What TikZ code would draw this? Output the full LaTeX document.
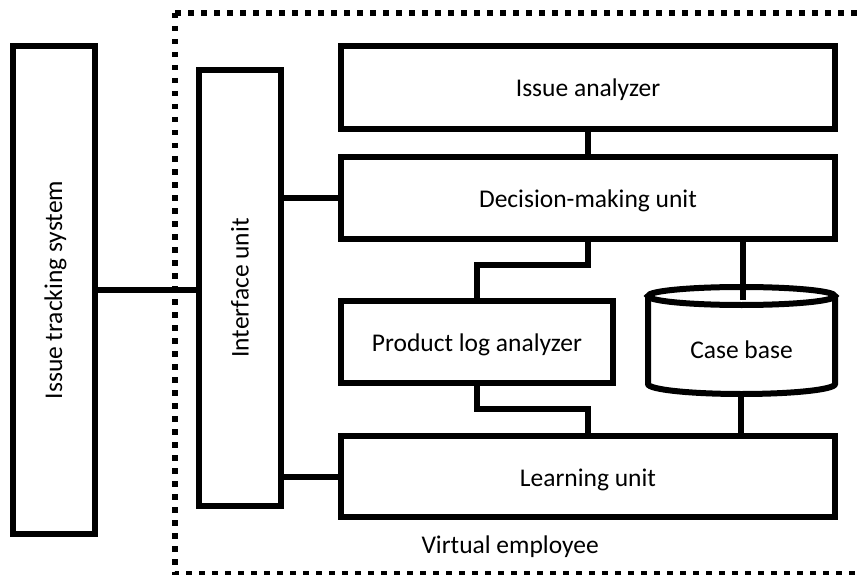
\documentclass[tikz,border=0pt]{standalone}
\usepackage{fontspec}
\setmainfont{Carlito}
\begin{document}
\begin{tikzpicture}[x=1pt, y=-1pt,
  every node/.style={font=\fontsize{25.5}{30}\selectfont},
  label text/.style={text height=22pt, text depth=3pt},
  block/.style={draw, line width=6pt, rectangle, inner sep=0pt, outer sep=0pt, line join=miter, label text},
  link/.style={draw, line width=6pt, line join=miter},
  boundary/.style={draw, line width=5.5pt, dash pattern=on 5.5pt off 7.5pt}]
\useasboundingbox (0,0) rectangle (862,575);

% system boundary of the virtual employee (runs off the right and bottom)
\draw[boundary] (175,13) -- (862,13);
\draw[boundary] (175,13) -- (175,574) -- (862,574);
\node[anchor=base west] (ve) at (418,553) {Virtual employee};

% blocks
\node[block, minimum width=82pt, minimum height=488pt] (its) at (54,290) {};
\node[rotate=90] (itslabel) at (55.5,290) {Issue tracking system};
\node[block, minimum width=82pt, minimum height=436pt] (iface) at (240,288) {};
\node[rotate=90] (ifacelabel) at (240,288) {Interface unit};
\node[block, minimum width=494pt, minimum height=83pt] (ia) at (588,87.5) {Issue analyzer};
\node[block, minimum width=494pt, minimum height=82pt] (dm) at (588,198) {Decision-making unit};
\node[block, minimum width=272pt, minimum height=82pt] (pla) at (477,342) {Product log analyzer};
\node[block, minimum width=494pt, minimum height=81pt] (lu) at (588,476.5) {Learning unit};

% case base drawn as a cylinder
\draw[line width=6pt] (648,296) -- (648,384)
  arc[start angle=180, end angle=360, x radius=93.5pt, y radius=10pt] -- (835,296);
\draw[line width=6pt] (741.5,296) ellipse [x radius=93.5pt, y radius=9pt];
\node[label text] (cb) at (741.5,349) {Case base};
\coordinate (cbin) at (743,300);
\coordinate (cbbot) at (741,394);

% connectors
\draw[link] (its.east) -- (its.east -| iface.west);
\draw[link] (dm.west) -- (dm.west -| iface.east);
\draw[link] (lu.west) -- (lu.west -| iface.east);
\draw[link] (ia.south) -- (dm.north);
\draw[link] (dm.south) -- ++(0,26) -| (pla.north);
\draw[link] (pla.south) -- ++(0,26) -| (lu.north);
\draw[link] (dm.south -| cbin) -- (cbin);
\draw[link] (cbbot) -- (cbbot |- lu.north);
\end{tikzpicture}
\end{document}
